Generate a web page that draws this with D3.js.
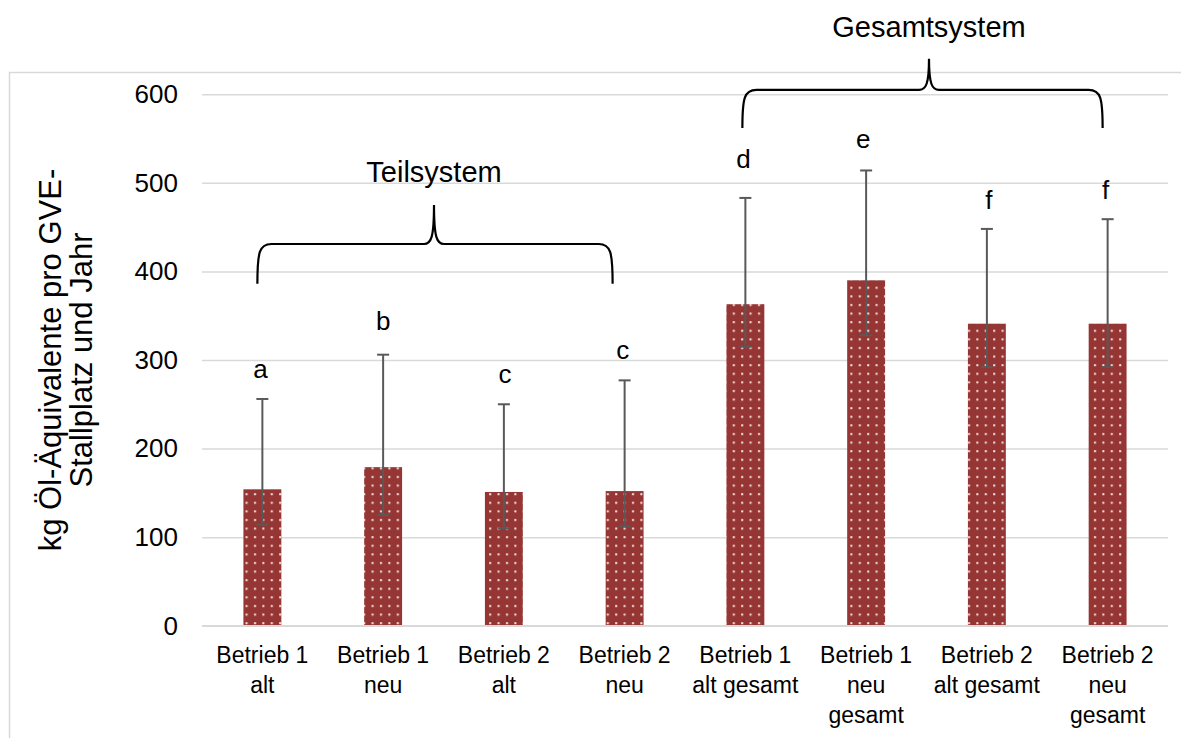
<!DOCTYPE html>
<html>
<head>
<meta charset="utf-8">
<script src="https://cdn.jsdelivr.net/npm/d3@7/dist/d3.min.js"></script>
<style>
  html, body { margin: 0; padding: 0; background: #fff; }
  svg { display: block; font-family: "Liberation Sans", Arial, sans-serif; }
</style>
</head>
<body>
<svg id="chart" width="1181" height="738"></svg>
<script>
// Energy demand per livestock place (kg oil equivalents / GVE place / year)
const categories = [
  ["Betrieb 1", "alt"],
  ["Betrieb 1", "neu"],
  ["Betrieb 2", "alt"],
  ["Betrieb 2", "neu"],
  ["Betrieb 1", "alt gesamt"],
  ["Betrieb 1", "neu", "gesamt"],
  ["Betrieb 2", "alt gesamt"],
  ["Betrieb 2", "neu", "gesamt"]
];
const means     = [154, 179, 151, 152, 363, 390, 341, 341];
const errLow    = [114, 125, 110, 112, 315, 328, 292, 292];
const errHigh   = [256, 306, 250, 277, 483, 514, 448, 459];
const letters   = ["a", "b", "c", "c", "d", "e", "f", "f"];
const yTicks    = [0, 100, 200, 300, 400, 500, 600];
const yTitle    = ["kg Öl-Äquivalente pro GVE-", "Stallplatz und Jahr"];
const groups    = [
  { name: "Teilsystem",   from: 0, to: 3 },
  { name: "Gesamtsystem", from: 4, to: 7 }
];

const svg = d3.select("#chart");
const W = 1181, H = 738;

const x = d3.scaleBand()
  .domain(d3.range(categories.length))
  .range([202, 1168])
  .paddingInner(0.686)
  .paddingOuter(0.343);

const y = d3.scaleLinear().domain([0, 600]).range([625.7, 94.3]);

// chart frame
svg.append("rect")
  .attr("x", 9.5).attr("y", 72.5)
  .attr("width", W + 20).attr("height", H)
  .attr("fill", "none").attr("stroke", "#d9d9d9").attr("stroke-width", 1.5);

// dotted fill for the bars
const defs = svg.append("defs");
const pat = defs.append("pattern")
  .attr("id", "dots").attr("patternUnits", "userSpaceOnUse")
  .attr("width", 8.4).attr("height", 8.6);
pat.append("rect").attr("width", 8.4).attr("height", 8.6).attr("fill", "#963634");
pat.append("rect").attr("x", 2).attr("y", 3).attr("width", 2).attr("height", 2).attr("fill", "#f4e6e6");

// gridlines and value labels
const yAxis = d3.axisLeft(y).tickValues(yTicks).tickSize(-(1168 - 202)).tickPadding(24);
const gy = svg.append("g").attr("transform", "translate(202,0)").call(yAxis);
gy.select(".domain").remove();
gy.selectAll(".tick line").attr("stroke", "#d9d9d9").attr("stroke-width", 1.5);
gy.selectAll(".tick text")
  .attr("font-size", 26).attr("fill", "#000")
  .attr("font-family", "Liberation Sans, Arial, sans-serif");

// bars
svg.append("g").selectAll("rect")
  .data(means)
  .join("rect")
  .attr("x", (d, i) => x(i))
  .attr("width", x.bandwidth())
  .attr("y", d => y(d))
  .attr("height", d => y(0) - y(d))
  .attr("fill", "url(#dots)");

// error bars
const eb = svg.append("g").attr("stroke", "#595959").attr("stroke-width", 2);
means.forEach((m, i) => {
  const cx = x(i) + x.bandwidth() / 2;
  eb.append("line").attr("x1", cx).attr("x2", cx).attr("y1", y(errLow[i])).attr("y2", y(errHigh[i]));
  eb.append("line").attr("x1", cx - 6).attr("x2", cx + 6).attr("y1", y(errHigh[i])).attr("y2", y(errHigh[i]));
  eb.append("line").attr("x1", cx - 6).attr("x2", cx + 6).attr("y1", y(errLow[i])).attr("y2", y(errLow[i]));
});

// significance letters
const letterOffsetX = [-2, 0, 1, -2, -2, -3, 2, -2];
const letterOffsetY = [21, 25, 21, 21, 30, 22, 20, 20];
svg.append("g").selectAll("text")
  .data(letters)
  .join("text")
  .attr("x", (d, i) => x(i) + x.bandwidth() / 2 + letterOffsetX[i])
  .attr("y", (d, i) => y(errHigh[i]) - letterOffsetY[i])
  .attr("text-anchor", "middle")
  .attr("font-size", 26)
  .text(d => d);

// baseline
svg.append("line")
  .attr("x1", 202).attr("x2", 1168).attr("y1", y(0)).attr("y2", y(0))
  .attr("stroke", "#d9d9d9").attr("stroke-width", 1.5);

// category labels
const cl = svg.append("g");
categories.forEach((lines, i) => {
  const t = cl.append("text")
    .attr("x", x(i) + x.bandwidth() / 2)
    .attr("y", 663)
    .attr("text-anchor", "middle")
    .attr("font-size", 23);
  lines.forEach((s, k) => {
    t.append("tspan").attr("x", x(i) + x.bandwidth() / 2).attr("dy", k === 0 ? 0 : 30).text(s);
  });
});

// y axis title
const yt = svg.append("text")
  .attr("transform", "translate(61,360) rotate(-90)")
  .attr("text-anchor", "middle")
  .attr("font-size", 31);
yTitle.forEach((s, k) => {
  yt.append("tspan").attr("x", 0).attr("dy", k === 0 ? 0 : 31).text(s);
});

// curly braces over groups
function brace(x0, x1, xt, yLine, yEnd, yTip) {
  const r = 14;
  return `M${x0},${yEnd} C${x0},${yLine + 8} ${x0 + 2},${yLine} ${x0 + r},${yLine}` +
    ` L${xt - 10},${yLine} C${xt - 3},${yLine} ${xt},${yLine - 6} ${xt},${yTip}` +
    ` C${xt},${yLine - 6} ${xt + 3},${yLine} ${xt + 10},${yLine}` +
    ` L${x1 - r},${yLine} C${x1 - 2},${yLine} ${x1},${yLine + 8} ${x1},${yEnd}`;
}
const braceSpec = [
  { dx0: -5, dx1: -12, tipX: 434, line: 431, end: 386, tip: 475, labelY: 182 },
  { dx0: -3, dx1: -5, tipX: 929, line: 605, end: 562, tip: 640, labelY: 37 }
];
groups.forEach((g, k) => {
  const s = braceSpec[k];
  const x0 = x(g.from) + x.bandwidth() / 2 + s.dx0;
  const x1 = x(g.to) + x.bandwidth() / 2 + s.dx1;
  svg.append("path")
    .attr("d", brace(x0, x1, s.tipX, y(s.line), y(s.end), y(s.tip)))
    .attr("fill", "none").attr("stroke", "#000").attr("stroke-width", 2.2);
  svg.append("text")
    .attr("x", s.tipX).attr("y", s.labelY)
    .attr("text-anchor", "middle")
    .attr("font-size", 29)
    .text(g.name);
});
</script>
</body>
</html>
